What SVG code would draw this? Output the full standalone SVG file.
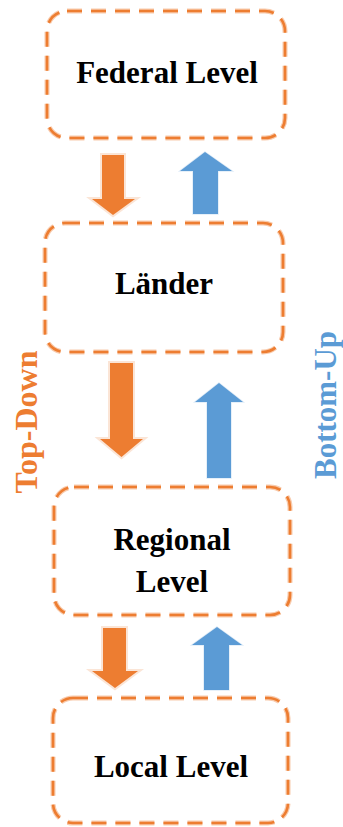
<svg xmlns="http://www.w3.org/2000/svg" width="343" height="827" viewBox="0 0 343 827">
<style>
.box-glow{fill:none;stroke:#f8cbad;stroke-width:5;stroke-dasharray:15 9}
.box{fill:none;stroke:#ed7d31;stroke-width:2.6;stroke-dasharray:15 9}
.lbl{font-family:"Liberation Serif","Times New Roman",serif;font-weight:bold;font-size:31px;fill:#000;text-anchor:middle}
.down{fill:#ed7d31;stroke:#fbe5d6;stroke-width:4;stroke-linejoin:miter;paint-order:stroke}
.up{fill:#5b9bd5;stroke:#deebf7;stroke-width:1.5;paint-order:stroke}
.side{font-family:"Liberation Serif","Times New Roman",serif;font-weight:bold;font-size:31px;text-anchor:middle}
</style>
<rect width="343" height="827" fill="#fff"/>
<g id="federal">
<rect class="box-glow" x="47" y="11" width="238" height="127" rx="20"/>
<rect class="box" x="47" y="11" width="238" height="127" rx="20"/>
<text class="lbl" x="167" y="83">Federal Level</text>
</g>
<g id="laender">
<rect class="box-glow" x="45" y="223" width="238" height="129" rx="20"/>
<rect class="box" x="45" y="223" width="238" height="129" rx="20"/>
<text class="lbl" x="164" y="294">Länder</text>
</g>
<g id="regional">
<rect class="box-glow" x="54" y="487" width="236" height="128" rx="20"/>
<rect class="box" x="54" y="487" width="236" height="128" rx="20"/>
<text class="lbl" x="172" y="550">Regional</text>
<text class="lbl" x="172" y="592">Level</text>
</g>
<g id="local">
<rect class="box-glow" x="53" y="698" width="235" height="125" rx="20"/>
<rect class="box" x="53" y="698" width="235" height="125" rx="20"/>
<text class="lbl" x="171" y="777">Local Level</text>
</g>
<g id="connectors">
<polygon class="down" points="102,155 124,155 124,199 135,199 113,215 92,199 102,199"/>
<polygon class="up" points="205,152 232,171 218,171 218,214 193,214 193,171 180,171"/>
<polygon class="down" points="110,363 133,363 133,439 143,439 121.5,457 100,439 110,439"/>
<polygon class="up" points="219,383 243,402 231,402 231,478 207,478 207,402 195,402"/>
<polygon class="down" points="103,628 126,628 126,671 138,671 115,688 92,671 103,671"/>
<polygon class="up" points="217,627 242,645 229,645 229,690 204,690 204,645 192,645"/>
</g>
<g id="top-down">
<text class="side" fill="#ed7d31" transform="translate(37,422) rotate(-90)" style="font-size:32px">Top-Down</text>
</g>
<g id="bottom-up">
<text class="side" fill="#5b9bd5" transform="translate(336,405) rotate(-90)">Bottom-Up</text>
</g>
</svg>
